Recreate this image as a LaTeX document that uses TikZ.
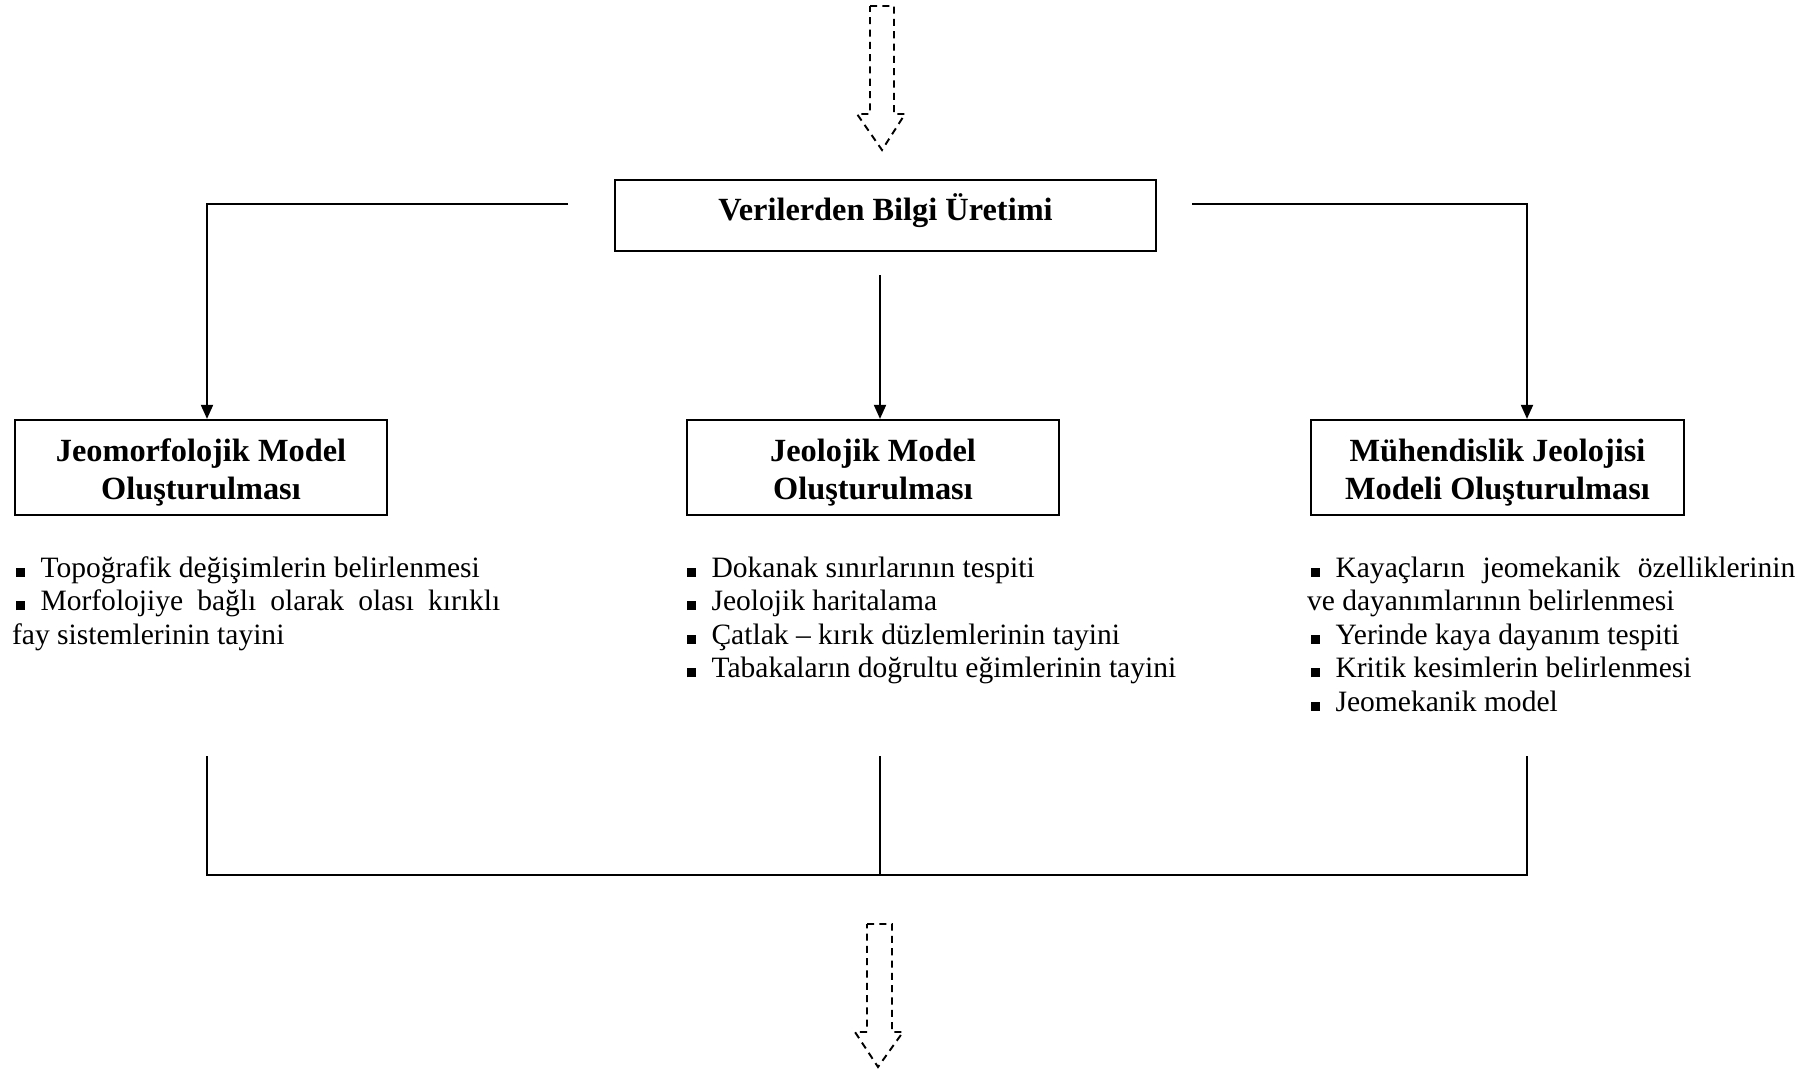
\documentclass[tikz,border=0pt]{standalone}
\usepackage{fontspec}
\setmainfont{Liberation Serif}
\usetikzlibrary{arrows.meta}

\newcommand{\sqbul}{\hspace*{1pt}\raisebox{0.1pt}{\rule{2.6pt}{2.6pt}}\hspace*{4.5pt}}
\newcommand{\kutuyazi}[2]{\rule{0pt}{9.8pt}#1\\#2\rule[-2.2pt]{0pt}{2.2pt}}

\begin{document}
\begin{tikzpicture}[x=0.01cm,y=-0.01cm,line width=0.6pt]
\tikzset{>={Triangle[length=4pt,width=3.4pt]}}
\tikzset{titlebox/.style={draw, minimum width=5.41cm, minimum height=0.71cm, align=center, inner sep=0pt, font=\fontsize{9.2}{10.8}\selectfont\bfseries}}
\tikzset{modelbox/.style={titlebox, minimum width=3.72cm, minimum height=0.95cm}}
\tikzset{itemlist/.style={anchor=base west, inner sep=0pt, align=justify, text width=4.88cm, font=\fontsize{8.4}{9.55}\selectfont}}
\tikzset{hollowarrow/.style={draw, line width=0.55pt, dash pattern=on 2pt off 1.5pt}}
\useasboundingbox (0,0) rectangle (1820,1072);
\draw[hollowarrow] (870,6) -- (894,6) -- (894,114) -- (905,114) -- (882,150) -- (857,114) -- (870,114) -- cycle;
\node[titlebox, text height=5.5pt, text depth=2.4pt] (veri) at (885.5,215.5) {Verilerden Bilgi Üretimi};
\node[modelbox] (jeomorf) at (201,467.5) {\kutuyazi{Jeomorfolojik Model}{Oluşturulması}};
\node[modelbox] (jeoloji) at (873,467.5) {\kutuyazi{Jeolojik Model}{Oluşturulması}};
\node[modelbox] (muhendis) at (1497.5,467.5) {\kutuyazi{Mühendislik Jeolojisi}{Modeli Oluşturulması}};
\coordinate (solbas) at (568,204);
\coordinate (sagbas) at (1192,204);
\coordinate (ortabas) at (880,275);
\coordinate (solkol) at (207,0);
\coordinate (sagkol) at (1527,0);
\draw[->] (solbas) -| (jeomorf.north -| solkol);
\draw[->] (ortabas) -- (jeoloji.north -| ortabas);
\draw[->] (sagbas) -| (muhendis.north -| sagkol);
\node[itemlist] (jeomorfmad) at (11,577) {\sqbul Topoğrafik değişimlerin belirlenmesi\\
\sqbul Morfolojiye bağlı olarak olası kırıklı fay sistemlerinin tayini};
\node[itemlist, text width=5.2cm] (jeolojimad) at (682,577) {\sqbul Dokanak sınırlarının tespiti\\
\sqbul Jeolojik haritalama\\
\sqbul Çatlak – kırık düzlemlerinin tayini\\
\sqbul Tabakaların doğrultu eğimlerinin tayini};
\node[itemlist] (muhendismad) at (1306,577) {\sqbul Kayaçların jeomekanik özelliklerinin ve dayanımlarının belirlenmesi\\
\sqbul Yerinde kaya dayanım tespiti\\
\sqbul Kritik kesimlerin belirlenmesi\\
\sqbul Jeomekanik model};
\coordinate (solalt) at (207,756);
\coordinate (ortaalt) at (880,756);
\coordinate (sagalt) at (1527,756);
\coordinate (birlesim) at (880,875);
\draw (solalt) |- (birlesim) -| (sagalt);
\draw (ortaalt) -- (birlesim);
\draw[hollowarrow] (867,924) -- (892,924) -- (892,1032) -- (903,1032) -- (878,1067) -- (855,1032) -- (867,1032) -- cycle;
\end{tikzpicture}
\end{document}
